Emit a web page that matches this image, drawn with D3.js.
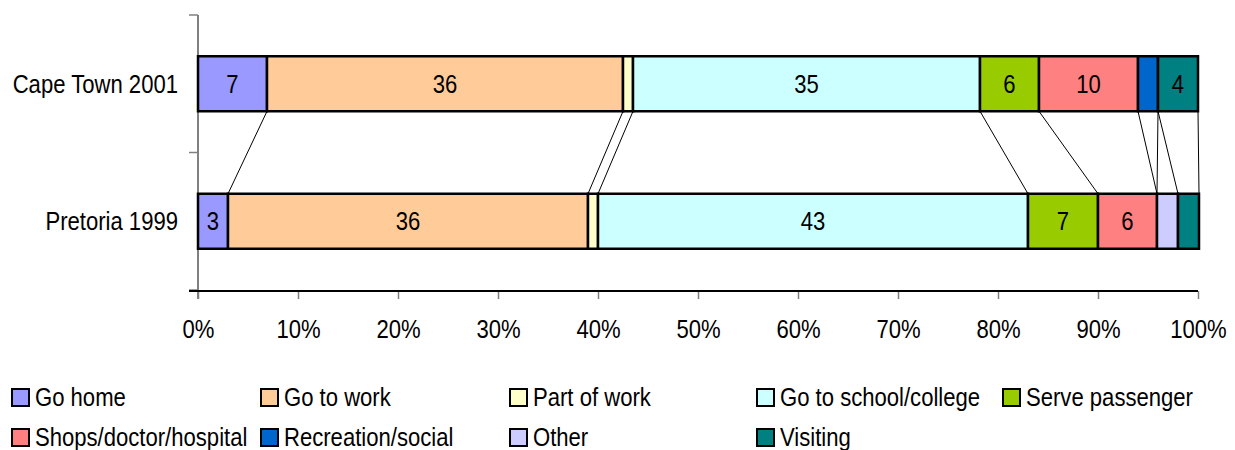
<!DOCTYPE html>
<html>
<head>
<meta charset="utf-8">
<script src="https://cdn.jsdelivr.net/npm/d3@7"></script>
<style>
  body { margin: 0; background: #fff; }
  svg text { font-family: "Liberation Sans", Arial, sans-serif; fill: #000; }
</style>
</head>
<body>
<svg id="chart" width="1235" height="450"></svg>
<script>
/* Trip purpose shares (%) */
var cities = ["Cape Town 2001", "Pretoria 1999"];
var purposes = ["Go home", "Go to work", "Part of work", "Go to school/college",
                "Serve passenger", "Shops/doctor/hospital", "Recreation/social",
                "Other", "Visiting"];
var cape_town = [6.9, 35.6, 1.0, 34.7, 5.9, 9.9, 2.0, 0, 4.0];
var pretoria = [3.0, 36.0, 1.0, 43.0, 7.0, 5.9, 0, 2.1, 2.1];
var x_ticks = [0, 10, 20, 30, 40, 50, 60, 70, 80, 90, 100];
var colours = ["#9999FF", "#FFCC99", "#FFFFCC", "#CCFFFF", "#99CC00",
               "#FF8080", "#0066CC", "#CCCCFF", "#008080"];

var font_size = 26;
/* text in the picture is squeezed sideways */
var squeeze = "scale(0.85,1)";

var svg = d3.select("#chart");

var x = d3.scaleLinear().domain([0, 100]).range([198, 1198]);
var y = d3.scaleBand().domain(cities).range([15, 290]).padding(0);
var colour = d3.scaleOrdinal().domain(purposes).range(colours);

var bar_height = y.bandwidth() * 0.4;
function bar_top(city) {
    return y(city) + (y.bandwidth() - bar_height) / 2;
}

/* stack the rows */
var rows = [cape_town, pretoria].map(function (vals, i) {
    var acc = 0;
    return vals.map(function (v, j) {
        var seg = {city: cities[i], purpose: purposes[j], value: v, x0: acc, x1: acc + v};
        acc += v;
        return seg;
    });
});

function put_text(parent, px, py, str, anchor) {
    return parent.append("text")
        .attr("transform", "translate(" + px + "," + py + ") " + squeeze)
        .attr("text-anchor", anchor)
        .attr("dominant-baseline", "central")
        .style("font-size", font_size + "px")
        .text(str);
}

/* series lines between the two bars */
var lines = svg.append("g");
for (var j = 0; j < purposes.length; j++) {
    var a = rows[0][j], b = rows[1][j];
    lines.append("line")
        .attr("x1", x(a.x1)).attr("y1", bar_top(cities[0]) + bar_height)
        .attr("x2", x(b.x1)).attr("y2", bar_top(cities[1]))
        .attr("stroke", "#000").attr("stroke-width", 1);
}

/* y axis */
var yaxis = svg.append("g");
yaxis.append("line")
    .attr("x1", 198).attr("x2", 198).attr("y1", 15).attr("y2", 299)
    .attr("stroke", "#808080").attr("stroke-width", 2);
[15, y(cities[1]), 290].forEach(function (ty) {
    yaxis.append("line")
        .attr("x1", 189).attr("x2", 198).attr("y1", ty).attr("y2", ty)
        .attr("stroke", "#808080").attr("stroke-width", 1.5);
});
cities.forEach(function (c) {
    put_text(svg, 178, y(c) + y.bandwidth() / 2, c, "end");
});

/* x axis */
var xaxis = svg.append("g")
    .attr("transform", "translate(0,291)")
    .call(d3.axisBottom(x).tickValues(x_ticks).tickSize(8)
          .tickFormat(function (d) { return d + "%"; }));
xaxis.select(".domain").remove();
xaxis.selectAll(".tick line").attr("stroke", "#808080").attr("stroke-width", 1.5);
xaxis.selectAll(".tick text")
    .attr("y", 38).attr("dy", null)
    .attr("dominant-baseline", "central")
    .attr("transform", squeeze)
    .style("font-size", font_size + "px")
    .style("font-family", "Liberation Sans, Arial, sans-serif");
svg.append("line")
    .attr("x1", 189).attr("x2", 1198).attr("y1", 291).attr("y2", 291)
    .attr("stroke", "#000").attr("stroke-width", 2);

/* bars */
var bars = svg.append("g");
rows.forEach(function (row) {
    var g = bars.append("g");
    g.selectAll("rect").data(row.filter(function (d) { return d.value > 0; }))
        .enter().append("rect")
        .attr("x", function (d) { return x(d.x0); })
        .attr("y", function (d) { return bar_top(d.city); })
        .attr("width", function (d) { return x(d.x1) - x(d.x0); })
        .attr("height", bar_height)
        .attr("fill", function (d) { return colour(d.purpose); })
        .attr("stroke", "#000").attr("stroke-width", 2.5);
    row.forEach(function (d) {
        if (d.value >= 3) {
            put_text(g, (x(d.x0) + x(d.x1)) / 2, bar_top(d.city) + bar_height / 2,
                     Math.round(d.value), "middle");
        }
    });
});

/* legend */
var leg_cols = [12, 261, 510, 757, 1003];
var leg_rows = [397, 437];
var legend = svg.append("g");
purposes.forEach(function (p, i) {
    var lx = leg_cols[i % 5], ly = leg_rows[Math.floor(i / 5)];
    legend.append("rect")
        .attr("x", lx).attr("y", ly - 8).attr("width", 17).attr("height", 17)
        .attr("fill", colour(p)).attr("stroke", "#000").attr("stroke-width", 2);
    put_text(legend, lx + 23, ly, p, "start");
});
</script>
</body>
</html>
